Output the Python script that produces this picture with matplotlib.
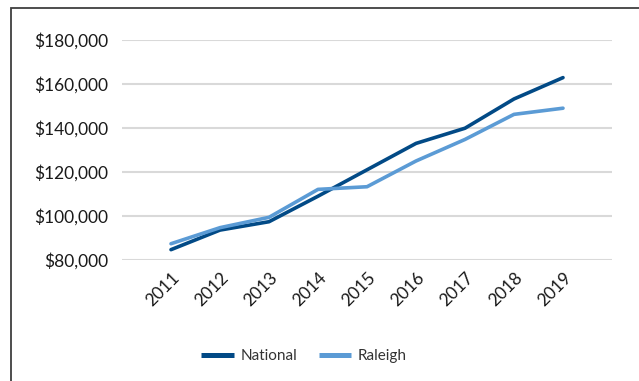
import matplotlib.pyplot as plt
from matplotlib.patches import Rectangle
from matplotlib.ticker import FuncFormatter

plt.rcParams["font.family"] = ["Lato", "DejaVu Sans"]

years = ["2011", "2012", "2013", "2014", "2015", "2016", "2017", "2018", "2019"]
national = [84700, 93600, 97400, 109000, 121000, 133000, 139900, 153200, 162900]
raleigh = [87400, 94700, 99400, 112100, 113300, 125000, 134800, 146200, 149000]

W, H = 639, 381
fig = plt.figure(figsize=(W / 100, H / 100), dpi=100)

# outer chart border (right/bottom cut off in the reference)
fig.patches.append(Rectangle((11 / W, -0.05), 1.1, 1 - 8 / H + 0.05, transform=fig.transFigure,
                             fill=False, edgecolor="#3f3f3f", linewidth=1.3))

ax = fig.add_axes([122 / W, 1 - 260 / H, (612 - 122) / W, (260 - 40) / H])
x = list(range(len(years)))
ax.plot(x, national, color="#024a86", linewidth=2.6, label="National", solid_capstyle="round")
ax.plot(x, raleigh, color="#5b9bd5", linewidth=2.6, label="Raleigh", solid_capstyle="round")

ax.set_xlim(-1, len(years))
ax.set_ylim(80000, 180000)
ax.set_yticks(range(80000, 180001, 20000))
ax.yaxis.set_major_formatter(FuncFormatter(lambda v, p: f"${v:,.0f}"))
ax.set_xticks(x)
ax.set_xticklabels(years, rotation=45, ha="right", rotation_mode="anchor")
ax.tick_params(length=0, labelsize=12.5, colors="#1a1a1a", pad=7)
ax.tick_params(axis="y", pad=10)
ax.grid(axis="y", color="#d9d9d9", linewidth=1.5)
ax.set_axisbelow(True)
for s in ax.spines.values():
    s.set_visible(False)

leg = fig.legend(loc="center", bbox_to_anchor=(304 / W, 1 - 356 / H), ncol=2, frameon=False,
                 fontsize=11, handlelength=2.1, columnspacing=1.4, handletextpad=0.45,
                 labelcolor="#333333")
for h in leg.get_lines():
    h.set_linewidth(3.6)
    h.set_solid_capstyle("butt")

fig.savefig("out.png", dpi=100)
